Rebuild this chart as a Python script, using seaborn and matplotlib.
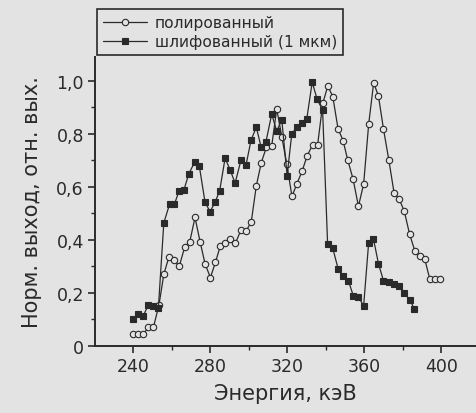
import numpy as np
import pandas as pd
import seaborn as sns
import matplotlib.pyplot as plt
from matplotlib.ticker import MultipleLocator, FuncFormatter

# полированный (open circles)
energy_pol = [240, 242.7, 245.4, 248, 250.6, 253.5, 256, 258.7, 261.3, 264,
              266.8, 269.5, 272.2, 274.8, 277.4, 280.2, 282.8, 285.4, 288, 290.6,
              293.2, 296, 298.7, 301.4, 304, 306.6, 309.2, 312, 314.6, 317.2,
              319.8, 322.5, 325, 327.8, 330.4, 333.2, 335.8, 338.5, 341.1, 343.7,
              346.4, 349, 351.5, 354.2, 357, 359.7, 362.3, 364.9, 367.4, 370,
              372.8, 375.5, 378.1, 380.8, 383.5, 386.2, 388.8, 391.4, 394, 396.6,
              399.2]
yield_pol = [0.045, 0.045, 0.045, 0.07, 0.07, 0.155, 0.27, 0.337, 0.326, 0.30,
             0.372, 0.394, 0.485, 0.394, 0.31, 0.258, 0.316, 0.379, 0.39, 0.404,
             0.388, 0.437, 0.433, 0.469, 0.604, 0.692, 0.749, 0.755, 0.894, 0.79,
             0.687, 0.564, 0.611, 0.66, 0.718, 0.758, 0.758, 0.915, 0.981, 0.94,
             0.82, 0.775, 0.70, 0.63, 0.527, 0.611, 0.836, 0.993, 0.942, 0.818,
             0.70, 0.577, 0.555, 0.508, 0.423, 0.36, 0.338, 0.328, 0.253, 0.253,
             0.253]

# шлифованный 1 мкм (filled squares)
energy_gr = [240, 242.7, 245.4, 248, 250.5, 253.2, 256, 259, 261.5, 264,
             266.5, 269, 272, 274.4, 277.4, 280, 282.6, 285, 287.8, 290.4,
             293, 296, 298.7, 301.3, 304, 306.5, 309, 312, 314.6, 317.2,
             320, 322.4, 325, 327.6, 330.2, 333, 335.6, 338.4, 341, 343.7,
             346.5, 349, 351.8, 354.3, 357, 359.7, 362.3, 364.8, 367.4, 370,
             372.6, 375.2, 377.8, 380.5, 383.6, 386]
yield_gr = [0.10, 0.12, 0.115, 0.155, 0.15, 0.145, 0.464, 0.535, 0.535, 0.586,
            0.59, 0.65, 0.693, 0.68, 0.542, 0.507, 0.542, 0.586, 0.708, 0.665,
            0.614, 0.70, 0.684, 0.777, 0.825, 0.75, 0.77, 0.875, 0.81, 0.854,
            0.643, 0.80, 0.825, 0.84, 0.857, 0.995, 0.93, 0.89, 0.385, 0.368,
            0.29, 0.263, 0.246, 0.19, 0.184, 0.152, 0.39, 0.404, 0.31, 0.246,
            0.24, 0.233, 0.226, 0.20, 0.175, 0.14]

bg = '#e3e3e3'
ink = '#2a2a2a'

sns.set_theme(style='ticks')
plt.rcParams['font.family'] = ['DejaVu Sans']

fig = plt.figure(figsize=(4.76, 4.14), dpi=100, facecolor=bg)
ax = fig.add_axes([95 / 476, 67 / 414, 381 / 476, 289 / 414])
ax.set_facecolor(bg)

sns.lineplot(x=energy_pol, y=yield_pol, ax=ax, color=ink, lw=0.9,
             marker='o', markersize=4.6, markerfacecolor=bg,
             markeredgecolor=ink, markeredgewidth=0.8, label='полированный')
sns.lineplot(x=energy_gr, y=yield_gr, ax=ax, color=ink, lw=0.9,
             marker='s', markersize=4.3, markerfacecolor=ink,
             markeredgecolor=ink, markeredgewidth=0.8,
             label='шлифованный (1 мкм)')

ax.set_xlim(220.3, 418)
ax.set_ylim(0, 1.09)
ax.xaxis.set_major_locator(MultipleLocator(40))
ax.xaxis.set_minor_locator(MultipleLocator(20))
ax.yaxis.set_major_locator(MultipleLocator(0.2))
ax.yaxis.set_minor_locator(MultipleLocator(0.1))
ax.yaxis.set_major_formatter(FuncFormatter(
    lambda v, p: '0' if abs(v) < 1e-9 else f'{v:.1f}'.replace('.', ',')))
ax.set_xticks([240, 280, 320, 360, 400])

sns.despine(ax=ax)
for s in ['left', 'bottom']:
    ax.spines[s].set_linewidth(1.4)
    ax.spines[s].set_color(ink)
ax.tick_params(which='major', length=5, width=1.2, color=ink,
               labelsize=12.5, labelcolor=ink, pad=3)
ax.tick_params(which='minor', length=3, width=1.0, color=ink)

ax.set_xlabel('Энергия, кэВ', fontsize=15, color=ink, labelpad=6)
ax.set_ylabel('Норм. выход, отн. вых.', fontsize=15, color=ink, labelpad=10)

leg = ax.legend(loc='upper left', bbox_to_anchor=(97 / 476, 404 / 414),
                bbox_transform=fig.transFigure, frameon=True, fancybox=False,
                edgecolor=ink, facecolor=bg, framealpha=1, fontsize=11.2,
                handlelength=2.8, handletextpad=0.5, borderpad=0.4,
                labelspacing=0.25, borderaxespad=0)
leg.get_frame().set_linewidth(1.2)
for t in leg.get_texts():
    t.set_color(ink)

fig.savefig('out.png', dpi=100, facecolor=bg)
